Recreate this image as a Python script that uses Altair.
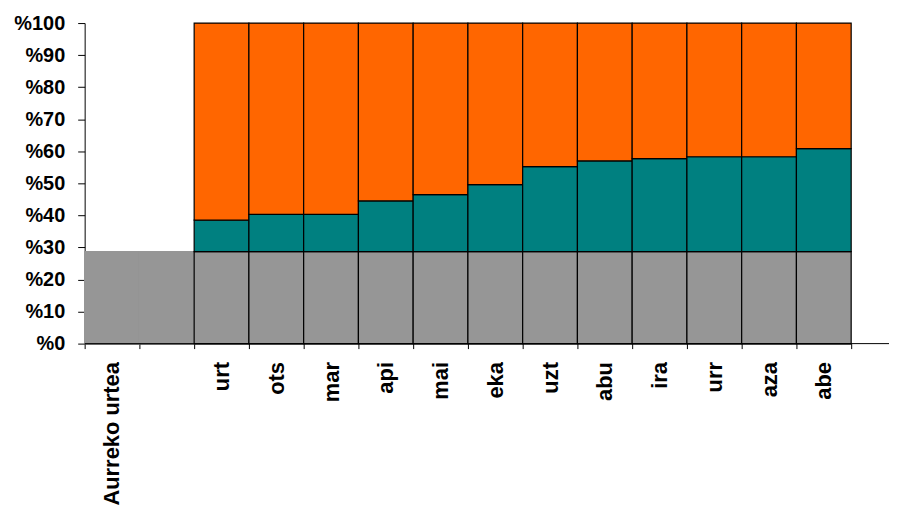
import altair as alt
import pandas as pd

# Categories on the x axis ("Aurreko urtea", an empty slot, then the months)
categories = ["Aurreko urtea", " ", "urt", "ots", "mar", "api", "mai", "eka",
              "uzt", "abu", "ira", "urr", "aza", "abe"]
months = ["urt", "ots", "mar", "api", "mai", "eka", "uzt", "abu", "ira", "urr", "aza", "abe"]

# Previous year share (grey, spans the first two slots)
prev_year_slots = ["Aurreko urtea", " "]
prev_year_value = [28.7, 28.7]

# Monthly values: grey base (previous year) and cumulative top of the teal part
base_values = [28.7, 28.7, 28.7, 28.7, 28.7, 28.7, 28.7, 28.7, 28.7, 28.7, 28.7, 28.7]
cumulative = [38.5, 40.3, 40.3, 44.5, 46.5, 49.6, 55.2, 57.0, 57.7, 58.3, 58.3, 60.8]
total = [100, 100, 100, 100, 100, 100, 100, 100, 100, 100, 100, 100]

y_ticks = [0, 10, 20, 30, 40, 50, 60, 70, 80, 90, 100]

GREY = "#969696"
TEAL = "#008080"
ORANGE = "#FF6600"

rows = []
for s, v in zip(prev_year_slots, prev_year_value):
    rows.append({"cat": s, "start": 0, "end": v, "part": "prev"})
for m, b, c, t in zip(months, base_values, cumulative, total):
    rows.append({"cat": m, "start": 0, "end": b, "part": "base"})
    rows.append({"cat": m, "start": b, "end": c, "part": "teal"})
    rows.append({"cat": m, "start": c, "end": t, "part": "orange"})
df = pd.DataFrame(rows)

W = 770
H = 322

x_axis = alt.Axis(title=None, labelAngle=-90, labelAlign="right",
                  labelBaseline="middle", tickBand="extent",
                  tickSize=5, tickColor="black", domainColor="black",
                  labelFont="Liberation Sans", labelFontSize=22,
                  labelFontWeight="bold", labelColor="black",
                  labelPadding=13, labelOverlap=False)
y_axis = alt.Axis(title=None, values=y_ticks, grid=False,
                  labelExpr="'%' + datum.value", tickSize=7,
                  tickColor="black", domainColor="black",
                  labelFont="Liberation Sans", labelFontSize=20,
                  labelFontWeight="bold", labelColor="black",
                  labelPadding=13, labelOverlap=False)

bars = alt.Chart(df).mark_bar(strokeWidth=1.2).encode(
    x=alt.X("cat:N", scale=alt.Scale(domain=categories, paddingInner=0, paddingOuter=0),
            sort=categories, axis=x_axis),
    y=alt.Y("start:Q", scale=alt.Scale(domain=[0, 100], nice=False), axis=y_axis),
    y2="end:Q",
    color=alt.Color("part:N",
                    scale=alt.Scale(domain=["prev", "base", "teal", "orange"],
                                    range=[GREY, GREY, TEAL, ORANGE]),
                    legend=None),
    stroke=alt.Stroke("part:N",
                      scale=alt.Scale(domain=["prev", "base", "teal", "orange"],
                                      range=[GREY, "black", "black", "black"]),
                      legend=None),
)

axis_ext = alt.Chart(pd.DataFrame({"a": [0]})).mark_rule(color="black", strokeWidth=1).encode(
    x=alt.value(0), x2=alt.value(W + 38), y=alt.value(H))

chart = alt.layer(bars, axis_ext).properties(
    width=W, height=H,
    padding={"left": 5, "top": 4, "right": 0, "bottom": 0},
).configure_view(strokeWidth=0)

chart.save("out.html", embed_options={"renderer": "svg", "actions": False})
